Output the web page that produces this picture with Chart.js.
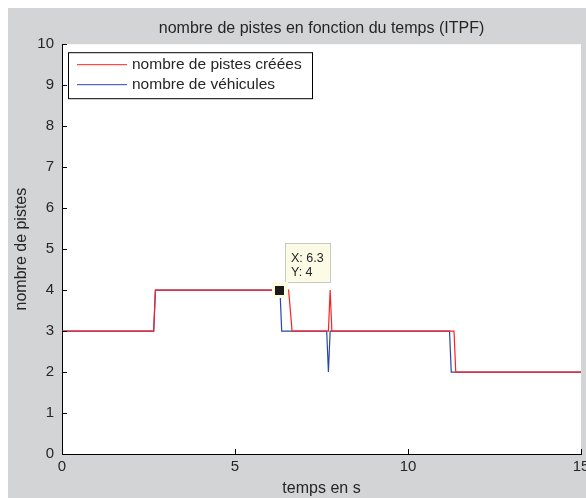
<!DOCTYPE html>
<html>
<head>
<meta charset="utf-8">
<script src="https://cdn.jsdelivr.net/npm/chart.js@4.4.1/dist/chart.umd.min.js"></script>
<style>
  html, body { margin: 0; padding: 0; background: #ffffff; }
  #wrap { width: 586px; height: 498px; }
</style>
</head>
<body>
<div id="wrap"><canvas id="c" width="586" height="498"></canvas></div>
<script>
// ---- data ----
const titleText = "nombre de pistes en fonction du temps (ITPF)";
const xAxisLabel = "temps en s";
const yAxisLabel = "nombre de pistes";
const seriesNames = ["nombre de pistes créées", "nombre de véhicules"];

const redTimes  = [0, 2.65, 2.7, 6.55, 6.65, 7.7, 7.75, 7.8, 11.33, 11.38, 15];
const redValues = [3, 3,    4,   4,    3,    3,   4,    3,   3,     2,     2];

const blueTimes  = [0, 2.65, 2.7, 6.3, 6.35, 7.65, 7.7, 7.75, 11.2, 11.25, 15];
const blueValues = [3, 3,    4,   4,   3,    3,    2,   3,    3,    2,     2];

const xTicks = [0, 5, 10, 15];
const yTicks = [0, 1, 2, 3, 4, 5, 6, 7, 8, 9, 10];

const datatipX = 6.3;
const datatipY = 4;

const FONT = "'Liberation Sans', Arial, Helvetica, sans-serif";
const TXT = "#262626";

function toPoints(ts, vs) { return ts.map((t, i) => ({ x: t, y: vs[i] })); }

const bgPlugin = {
  id: 'bg',
  beforeDraw(chart) {
    const ctx = chart.ctx, a = chart.chartArea;
    ctx.save();
    ctx.fillStyle = '#ffffff';
    ctx.fillRect(0, 0, chart.width, chart.height);
    ctx.fillStyle = '#d3d4d5';
    ctx.fillRect(8, 8, chart.width - 8, chart.height - 8);
    ctx.fillStyle = '#ffffff';
    ctx.fillRect(a.left, a.top, a.right - a.left, a.bottom - a.top);
    ctx.restore();
  }
};

const decoPlugin = {
  id: 'deco',
  afterDatasetsDraw(chart) {
    const ctx = chart.ctx, a = chart.chartArea;
    const xs = chart.scales.x, ys = chart.scales.y;
    ctx.save();
    // inward ticks
    ctx.strokeStyle = '#000000';
    ctx.lineWidth = 1;
    ctx.beginPath();
    yTicks.forEach(v => {
      const py = Math.round(ys.getPixelForValue(v)) + 0.5;
      ctx.moveTo(a.left, py); ctx.lineTo(a.left + 5, py);
    });
    xTicks.forEach(v => {
      const px = Math.round(xs.getPixelForValue(v)) + 0.5;
      ctx.moveTo(px, a.bottom); ctx.lineTo(px, a.bottom - 5);
    });
    ctx.stroke();

    // legend
    const lx = a.left + 6, ly = a.top + 8, lw = 244, lh = 46;
    ctx.fillStyle = '#ffffff';
    ctx.fillRect(lx, ly, lw, lh);
    ctx.strokeStyle = '#000000';
    ctx.strokeRect(lx + 0.5, ly + 0.5, lw, lh);
    const colors = ['#ff2020', '#2846a8'];
    ctx.font = "15.5px " + FONT;
    ctx.textBaseline = 'middle';
    ctx.textAlign = 'left';
    seriesNames.forEach((n, i) => {
      const yy = ly + 12 + i * 20 + 0.5;
      ctx.strokeStyle = colors[i];
      ctx.beginPath(); ctx.moveTo(lx + 9, yy); ctx.lineTo(lx + 59, yy); ctx.stroke();
      ctx.fillStyle = TXT;
      ctx.fillText(n, lx + 64, yy);
    });

    // datatip
    const px = xs.getPixelForValue(datatipX), py = ys.getPixelForValue(datatipY);
    const bx = Math.round(px + 5), by = Math.round(py - 47);
    ctx.fillStyle = '#fbfbe6';
    ctx.fillRect(bx, by, 46, 40);
    ctx.strokeStyle = '#c8c8c0';
    ctx.strokeRect(bx + 0.5, by + 0.5, 45, 39);
    ctx.fillStyle = '#fbfbe6';
    ctx.fillRect(Math.round(px - 8), Math.round(py - 8), 16, 16);
    ctx.fillStyle = '#1a1a1a';
    ctx.fillRect(Math.round(px - 4.5), Math.round(py - 4.5), 9, 9);
    ctx.fillStyle = TXT;
    ctx.font = "12.5px " + FONT;
    ctx.textBaseline = 'alphabetic';
    ctx.fillText("X: " + datatipX, bx + 6, by + 18.5);
    ctx.fillText("Y: " + datatipY, bx + 6, by + 33);
    ctx.restore();
  }
};

new Chart(document.getElementById('c'), {
  type: 'scatter',
  data: {
    datasets: [
      { label: seriesNames[0], data: toPoints(redTimes, redValues), showLine: true,
        borderColor: '#ff2020', backgroundColor: '#ff2020', borderWidth: 1.2, pointRadius: 0, tension: 0 },
      { label: seriesNames[1], data: toPoints(blueTimes, blueValues), showLine: true,
        borderColor: '#2846a8', backgroundColor: '#2846a8', borderWidth: 1.2, pointRadius: 0, tension: 0 }
    ]
  },
  options: {
    responsive: false,
    animation: false,
    devicePixelRatio: 1,
    layout: { padding: { left: 0, right: 5, top: 0, bottom: 0 } },
    plugins: {
      legend: { display: false },
      tooltip: { enabled: false },
      title: {
        display: true, text: titleText, color: TXT, fullSize: false,
        font: { family: FONT, size: 16, weight: 'normal' },
        padding: { top: 19, bottom: 6 }
      }
    },
    scales: {
      x: {
        type: 'linear', min: 0, max: 15,
        afterBuildTicks: s => { s.ticks = xTicks.map(v => ({ value: v })); },
        afterFit: s => { s.height = 44; s.paddingLeft = 0; s.paddingRight = 0; },
        ticks: { color: TXT, font: { family: FONT, size: 15 }, padding: 4, maxRotation: 0, autoSkip: false },
        grid: { display: true, drawOnChartArea: false, drawTicks: false },
        border: { display: true, color: '#000000', width: 1 },
        title: { display: true, text: xAxisLabel, color: TXT, font: { family: FONT, size: 16 }, padding: { top: 0, bottom: 0 } }
      },
      y: {
        type: 'linear', min: 0, max: 10,
        afterBuildTicks: s => { s.ticks = yTicks.map(v => ({ value: v })); },
        afterFit: s => { s.width = 62; s.paddingTop = 0; s.paddingBottom = 0; },
        ticks: { color: TXT, font: { family: FONT, size: 15 }, padding: 8, autoSkip: false },
        grid: { display: true, drawOnChartArea: false, drawTicks: false },
        border: { display: true, color: '#000000', width: 1 },
        title: { display: true, text: yAxisLabel, color: TXT, font: { family: FONT, size: 16 }, padding: { top: 12, bottom: 0 } }
      }
    }
  },
  plugins: [bgPlugin, decoPlugin]
});
</script>
</body>
</html>
